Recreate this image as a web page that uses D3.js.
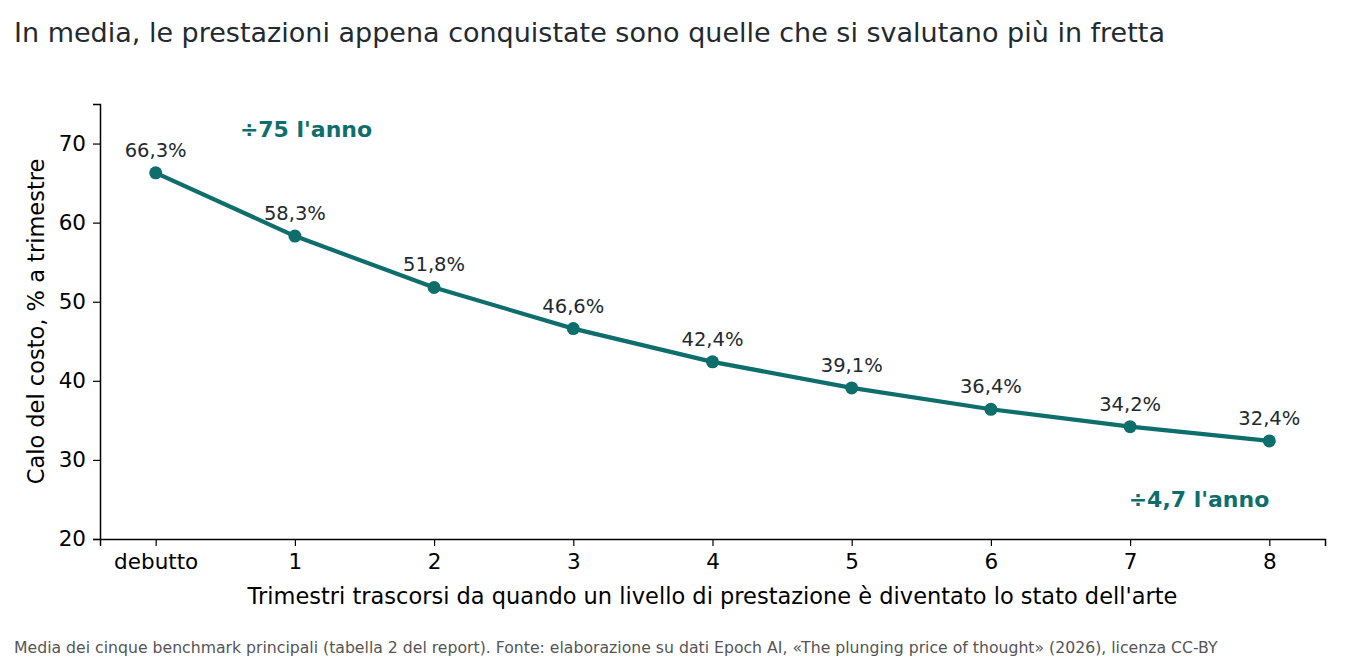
<!DOCTYPE html>
<html>
<head>
<meta charset="utf-8">
<script src="https://cdn.jsdelivr.net/npm/d3@7"></script>
<style>
  body { margin: 0; background: #fff; }
  text { font-family: "DejaVu Sans", sans-serif; }
</style>
</head>
<body>
<div id="chart"></div>
<script>
var w = 1350;
var h = 660;

// data
var quarters = [0, 1, 2, 3, 4, 5, 6, 7, 8];
var tickLabels = ["debutto", "1", "2", "3", "4", "5", "6", "7", "8"];
var drop = [66.3, 58.3, 51.8, 46.6, 42.4, 39.1, 36.4, 34.2, 32.4];
var yTicks = [20, 30, 40, 50, 60, 70];

var teal = "#0e6e6b";
var margin = { top: 104, right: 25, bottom: 121, left: 100 };

var svg = d3.select("#chart")
            .append("svg")
            .attr("width", w)
            .attr("height", h);

var xScale = d3.scaleLinear()
               .domain([-0.4, 8.4])
               .range([margin.left, w - margin.right]);

var yScale = d3.scaleLinear()
               .domain([20, 75])
               .range([h - margin.bottom, margin.top]);

// title
svg.append("text")
   .attr("x", 14)
   .attr("y", 42)
   .style("font-size", "27px")
   .style("fill", "#222a30")
   .text("In media, le prestazioni appena conquistate sono quelle che si svalutano più in fretta");

// axes
var xAxis = d3.axisBottom(xScale)
              .tickValues(quarters)
              .tickFormat(function(d, i) { return tickLabels[i]; })
              .tickSize(7)
              .tickPadding(8);

var yAxis = d3.axisLeft(yScale)
              .tickValues(yTicks)
              .tickSize(7)
              .tickPadding(7);

var gx = svg.append("g")
            .attr("transform", "translate(0," + (h - margin.bottom) + ")")
            .call(xAxis);

var gy = svg.append("g")
            .attr("transform", "translate(" + margin.left + ",0)")
            .call(yAxis);

[gx, gy].forEach(function(g) {
    g.select(".domain").attr("stroke", "#000").attr("stroke-width", 1.5);
    g.selectAll(".tick line").attr("stroke", "#000").attr("stroke-width", 1.2);
    g.selectAll(".tick text")
     .style("font-size", "21.5px")
     .style("font-family", "DejaVu Sans, sans-serif")
     .attr("fill", "#000");
});

// axis titles
svg.append("text")
   .attr("x", (margin.left + w - margin.right) / 2)
   .attr("y", 604)
   .attr("text-anchor", "middle")
   .style("font-size", "22.5px")
   .text("Trimestri trascorsi da quando un livello di prestazione è diventato lo stato dell'arte");

svg.append("text")
   .attr("transform", "translate(44," + (margin.top + h - margin.bottom) / 2 + ") rotate(-90)")
   .attr("text-anchor", "middle")
   .style("font-size", "22.5px")
   .text("Calo del costo, % a trimestre");

// line
var line = d3.line()
             .x(function(d, i) { return xScale(quarters[i]); })
             .y(function(d) { return yScale(d); });

svg.append("path")
   .datum(drop)
   .attr("d", line)
   .attr("fill", "none")
   .attr("stroke", teal)
   .attr("stroke-width", 4.2)
   .attr("stroke-linejoin", "round");

svg.selectAll("circle.pt")
   .data(drop)
   .enter()
   .append("circle")
   .attr("class", "pt")
   .attr("cx", function(d, i) { return xScale(quarters[i]); })
   .attr("cy", function(d) { return yScale(d); })
   .attr("r", 6.5)
   .attr("fill", teal);

// value labels
svg.selectAll("text.val")
   .data(drop)
   .enter()
   .append("text")
   .attr("class", "val")
   .attr("x", function(d, i) { return xScale(quarters[i]); })
   .attr("y", function(d) { return yScale(d) - 16; })
   .attr("text-anchor", "middle")
   .style("font-size", "19.5px")
   .style("fill", "#222a30")
   .text(function(d) { return d.toFixed(1).replace(".", ",") + "%"; });

// annotations
svg.append("text")
   .attr("x", xScale(1.08))
   .attr("y", yScale(71.8))
   .attr("dy", "0.35em")
   .attr("text-anchor", "middle")
   .style("font-size", "22px")
   .style("font-weight", "bold")
   .style("fill", teal)
   .text("÷75 l'anno");

svg.append("text")
   .attr("x", xScale(8))
   .attr("y", yScale(25))
   .attr("dy", "0.35em")
   .attr("text-anchor", "end")
   .style("font-size", "22px")
   .style("font-weight", "bold")
   .style("fill", teal)
   .text("÷4,7 l'anno");

// source note
svg.append("text")
   .attr("x", 14)
   .attr("y", 653)
   .style("font-size", "15.7px")
   .style("fill", "#555")
   .text("Media dei cinque benchmark principali (tabella 2 del report). Fonte: elaborazione su dati Epoch AI, «The plunging price of thought» (2026), licenza CC-BY");
</script>
</body>
</html>
